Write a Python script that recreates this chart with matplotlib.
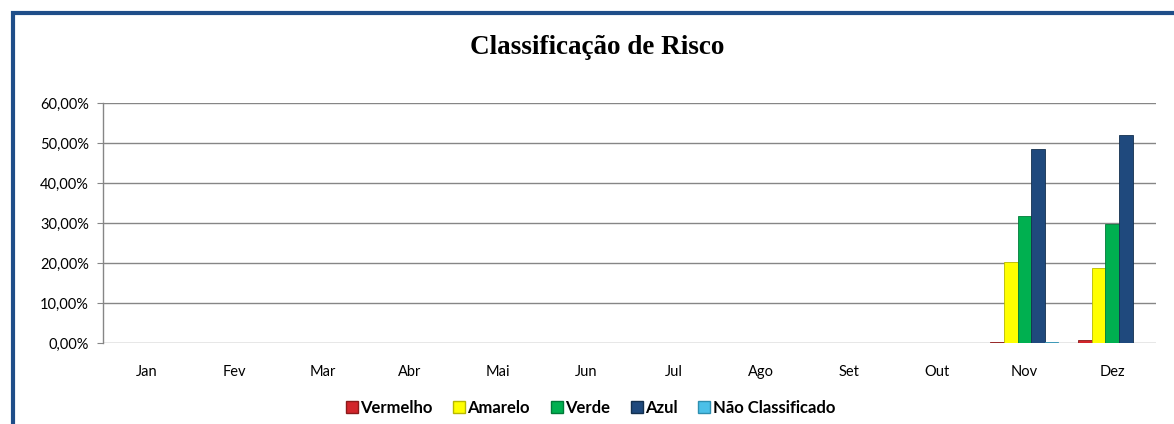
import matplotlib
matplotlib.use("Agg")
import matplotlib.pyplot as plt
import numpy as np
from matplotlib.patches import Rectangle
from matplotlib.lines import Line2D

months = ["Jan", "Fev", "Mar", "Abr", "Mai", "Jun", "Jul", "Ago", "Set", "Out", "Nov", "Dez"]
series_names = ["Vermelho", "Amarelo", "Verde", "Azul", "Não Classificado"]
vermelho = [0, 0, 0, 0, 0, 0, 0, 0, 0, 0, 0.25, 0.7]
amarelo = [0, 0, 0, 0, 0, 0, 0, 0, 0, 0, 20.2, 18.8]
verde = [0, 0, 0, 0, 0, 0, 0, 0, 0, 0, 31.8, 29.8]
azul = [0, 0, 0, 0, 0, 0, 0, 0, 0, 0, 48.6, 52.0]
nao_class = [0, 0, 0, 0, 0, 0, 0, 0, 0, 0, 0.25, 0]
yticks = [0, 10, 20, 30, 40, 50, 60]

colors = ["#D2252B", "#FFFF00", "#00B050", "#1F497D", "#4BC0E8"]
edges = ["#8B1A1A", "#B8B800", "#007A38", "#13304F", "#2E8FB0"]

fig = plt.figure(figsize=(11.74, 4.24), dpi=100)
font = "Lato"

# outer border (dark blue), partially cut at right/bottom
fig.patches.append(Rectangle((13/1174, -0.05), 1.2, 1 - 13/424 + 0.05,
                             transform=fig.transFigure, fill=False,
                             edgecolor="#1F4E89", linewidth=3))

ax = fig.add_axes([103/1174, 1 - 343/424, (1156 - 103)/1174, (343 - 103)/424])
x = np.arange(len(months))
w = 0.155
data = [vermelho, amarelo, verde, azul, nao_class]
for i, vals in enumerate(data):
    ax.bar(x + (i - 2) * w, vals, width=w, color=colors[i], edgecolor=edges[i],
           linewidth=0.6, zorder=3)

ax.set_xlim(-0.5, 11.5)
ax.set_ylim(0, 60)
ax.set_yticks(yticks)
ax.set_yticklabels([f"{v:.2f}%".replace(".", ",") for v in yticks],
                   fontsize=10.5, family=font)
ax.set_xticks(x)
ax.set_xticklabels(months, fontsize=10.5, family=font)
ax.tick_params(axis="x", length=0, pad=16)
ax.tick_params(axis="y", length=4, color="#868686", pad=6)
ax.grid(axis="y", color="#868686", linewidth=1, zorder=0)
for s in ["top", "right", "bottom"]:
    ax.spines[s].set_visible(False)
ax.spines["left"].set_color("#868686")
ax.spines["left"].set_linewidth(1)

fig.text(0.509, 1 - 48/424, "Classificação de Risco", ha="center", va="center",
         fontsize=19.5, fontweight="bold", family="Liberation Serif")

handles = [Line2D([0], [0], marker="s", linestyle="none", markersize=8,
                  markerfacecolor=colors[i], markeredgecolor=edges[i])
           for i in range(5)]
leg = fig.legend(handles, series_names, loc="center", bbox_to_anchor=(590/1174, 1 - 408/424),
                 ncol=5, frameon=False, handletextpad=0.1, columnspacing=1.2,
                 handlelength=0.8, prop={"family": font, "weight": "bold", "size": 12})

fig.savefig("out.png", dpi=100)
